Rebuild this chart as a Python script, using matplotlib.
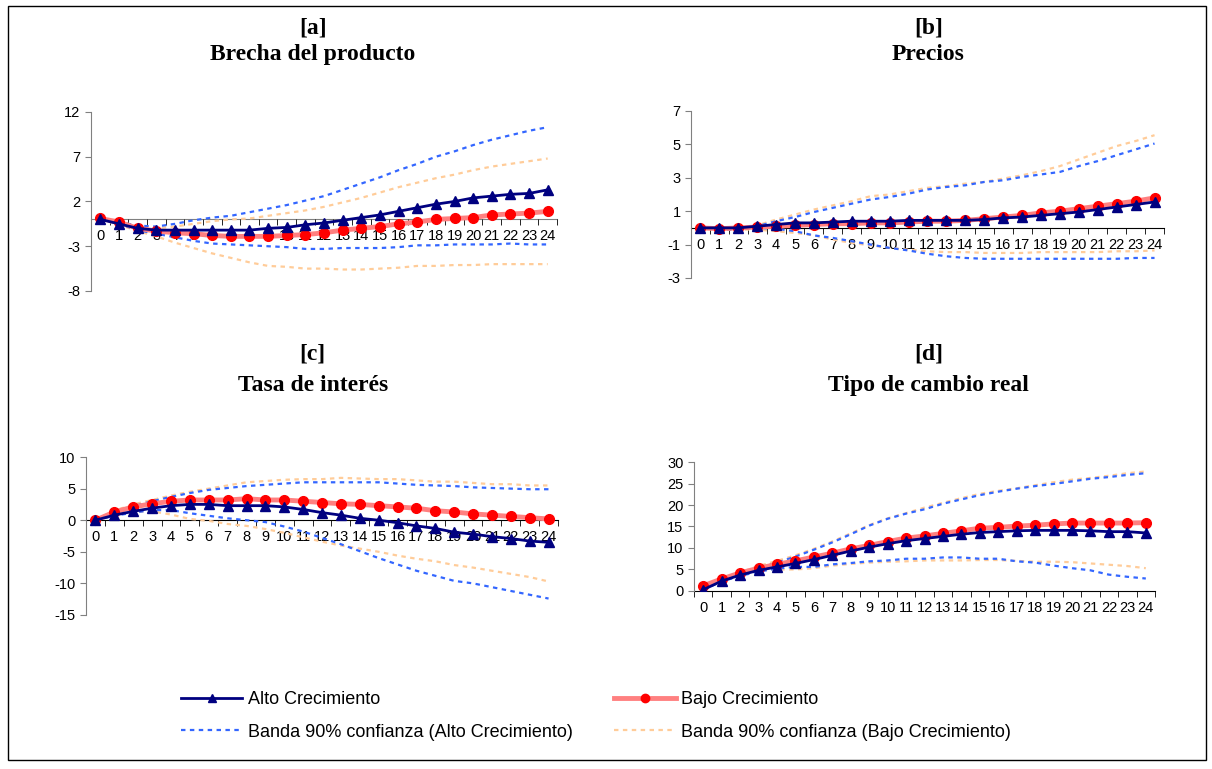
import numpy as np
import matplotlib.pyplot as plt
from matplotlib.patches import Rectangle
from matplotlib.lines import Line2D

plt.rcParams['font.family'] = ['Liberation Sans', 'DejaVu Sans']
plt.rcParams['axes.unicode_minus'] = False

periodos = list(range(25))

# [a] Brecha del producto
a_alto = [0, -0.5, -1.0, -1.2, -1.2, -1.2, -1.2, -1.2, -1.2, -1.0, -0.9, -0.6, -0.4, -0.1,
          0.2, 0.5, 0.9, 1.3, 1.7, 2.0, 2.4, 2.6, 2.8, 2.9, 3.3]
a_bajo = [0.1, -0.3, -1.0, -1.3, -1.5, -1.6, -1.8, -1.9, -1.9, -1.9, -1.8, -1.7, -1.5, -1.2,
          -1.0, -0.8, -0.5, -0.3, 0.0, 0.1, 0.2, 0.5, 0.6, 0.7, 0.9]
a_alto_sup = [0, -0.3, -0.7, -0.8, -0.5, -0.1, 0.2, 0.4, 0.8, 1.2, 1.6, 2.1, 2.6, 3.3,
              4.0, 4.7, 5.5, 6.2, 7.0, 7.6, 8.3, 8.9, 9.4, 9.9, 10.3]
a_alto_inf = [0, -0.5, -1.2, -1.6, -2.0, -2.4, -2.7, -2.8, -2.9, -3.0, -3.1, -3.3, -3.3, -3.2,
              -3.2, -3.2, -3.1, -2.9, -2.9, -2.8, -2.8, -2.8, -2.7, -2.8, -2.8]
a_bajo_sup = [0, -0.3, -0.8, -1.0, -0.8, -0.5, -0.2, 0.0, 0.1, 0.4, 0.7, 1.0, 1.4, 1.9,
              2.4, 3.0, 3.6, 4.1, 4.6, 5.0, 5.5, 5.9, 6.2, 6.5, 6.8]
a_bajo_inf = [0, -0.6, -1.3, -1.9, -2.6, -3.2, -3.8, -4.3, -4.8, -5.2, -5.3, -5.5, -5.5, -5.6,
              -5.6, -5.5, -5.4, -5.2, -5.2, -5.1, -5.1, -5.0, -5.0, -5.0, -5.0]

# [b] Precios
b_alto = [0, 0, 0, 0.1, 0.2, 0.3, 0.3, 0.35, 0.4, 0.4, 0.4, 0.45, 0.45, 0.45, 0.45, 0.5,
          0.6, 0.65, 0.75, 0.85, 0.95, 1.1, 1.25, 1.4, 1.55]
b_bajo = [0, -0.05, 0, 0.05, 0.1, 0.15, 0.2, 0.25, 0.25, 0.3, 0.3, 0.35, 0.4, 0.4, 0.45,
          0.55, 0.65, 0.75, 0.9, 1.0, 1.15, 1.3, 1.45, 1.6, 1.8]
b_alto_sup = [0, 0, 0, 0.1, 0.4, 0.65, 0.95, 1.2, 1.45, 1.7, 1.85, 2.05, 2.3, 2.45, 2.55,
              2.75, 2.85, 3.05, 3.2, 3.35, 3.7, 4.0, 4.35, 4.7, 5.05]
b_alto_inf = [0, -0.1, -0.1, 0, -0.05, -0.2, -0.45, -0.6, -0.8, -1.0, -1.2, -1.35, -1.55,
              -1.7, -1.8, -1.85, -1.85, -1.85, -1.85, -1.85, -1.85, -1.85, -1.85, -1.8, -1.8]
b_bajo_sup = [0, 0, 0, 0.15, 0.5, 0.8, 1.1, 1.35, 1.6, 1.9, 2.0, 2.2, 2.4, 2.5, 2.65, 2.75,
              2.95, 3.15, 3.4, 3.7, 4.1, 4.5, 4.9, 5.2, 5.55]
b_bajo_inf = [0, -0.1, -0.1, -0.1, -0.2, -0.3, -0.45, -0.7, -0.9, -1.05, -1.2, -1.3, -1.4,
              -1.45, -1.45, -1.5, -1.5, -1.5, -1.45, -1.45, -1.45, -1.45, -1.4, -1.4, -1.35]

# [c] Tasa de interes
c_alto = [0, 0.8, 1.4, 1.9, 2.3, 2.5, 2.5, 2.3, 2.3, 2.3, 2.1, 1.7, 1.2, 0.8, 0.3, 0,
          -0.4, -0.9, -1.3, -1.9, -2.2, -2.6, -2.9, -3.3, -3.5]
c_bajo = [0, 1.3, 2.1, 2.6, 3.0, 3.2, 3.2, 3.2, 3.4, 3.2, 3.2, 3.0, 2.8, 2.6, 2.5, 2.3,
          2.1, 1.9, 1.5, 1.3, 1.0, 0.8, 0.6, 0.4, 0.2]
c_alto_sup = [0, 1.2, 2.2, 3.0, 3.7, 4.3, 4.8, 5.1, 5.4, 5.6, 5.8, 6.0, 6.0, 6.0, 6.0, 6.0,
              5.8, 5.6, 5.5, 5.4, 5.2, 5.1, 5.0, 4.9, 4.9]
c_alto_inf = [0, 0.7, 1.2, 1.6, 1.6, 1.1, 0.7, 0.3, 0, -0.3, -1.0, -1.8, -2.8, -3.8, -4.9,
              -6.0, -7.0, -8.0, -8.8, -9.6, -10.0, -10.6, -11.2, -11.8, -12.4]
c_bajo_sup = [0, 1.5, 2.5, 3.2, 3.9, 4.5, 5.0, 5.5, 6.0, 6.2, 6.4, 6.5, 6.5, 6.7, 6.6, 6.5,
              6.5, 6.3, 6.1, 6.1, 5.9, 5.7, 5.7, 5.5, 5.5]
c_bajo_inf = [0, 0.9, 1.3, 1.4, 0.9, 0.2, -0.1, -0.6, -0.9, -1.4, -2.0, -2.7, -3.4, -4.0,
              -4.5, -5.0, -5.6, -6.1, -6.5, -7.1, -7.5, -8.0, -8.5, -9.0, -9.7]

# [d] Tipo de cambio real
d_alto = [0.3, 2.3, 3.7, 4.8, 5.6, 6.4, 7.3, 8.3, 9.3, 10.2, 11.0, 11.7, 12.2, 12.7, 13.2,
          13.6, 13.8, 14.0, 14.1, 14.1, 14.1, 14.0, 13.8, 13.8, 13.5]
d_bajo = [1.2, 2.8, 4.2, 5.3, 6.2, 7.0, 7.9, 8.8, 9.8, 10.6, 11.5, 12.3, 12.8, 13.4, 14.0,
          14.6, 14.8, 15.1, 15.3, 15.6, 15.8, 15.8, 15.8, 15.8, 15.9]
d_alto_sup = [0.5, 2.5, 4.0, 5.4, 6.6, 8.0, 9.6, 11.3, 13.2, 15.2, 16.8, 18.0, 19.0, 20.3,
              21.3, 22.3, 23.1, 23.8, 24.4, 24.9, 25.5, 26.1, 26.5, 27.0, 27.4]
d_alto_inf = [0.3, 2.2, 3.5, 4.5, 5.2, 5.6, 5.6, 6.2, 6.5, 6.9, 7.1, 7.5, 7.5, 7.8, 7.8,
              7.5, 7.5, 6.9, 6.6, 5.9, 5.3, 4.8, 3.8, 3.3, 2.9]
d_bajo_sup = [1.0, 2.9, 4.3, 5.8, 7.0, 8.3, 9.8, 11.5, 13.4, 15.3, 16.9, 18.1, 19.4, 20.5,
              21.6, 22.6, 23.3, 23.9, 24.6, 25.3, 25.9, 26.3, 26.8, 27.4, 27.8]
d_bajo_inf = [0.8, 2.6, 4.1, 4.9, 5.0, 5.0, 5.3, 5.9, 6.3, 6.6, 6.8, 6.9, 7.1, 7.1, 7.1,
              7.2, 7.2, 7.0, 6.8, 6.8, 6.7, 6.4, 6.1, 5.8, 5.3]

letras = ['[a]', '[b]', '[c]', '[d]']
titulos = ['Brecha del producto', 'Precios', 'Tasa de interés', 'Tipo de cambio real']
yticks = [[-8, -3, 2, 7, 12], [-3, -1, 1, 3, 5, 7], [-15, -10, -5, 0, 5, 10],
          [0, 5, 10, 15, 20, 25, 30]]
etiquetas = ['Alto Crecimiento', 'Bajo Crecimiento',
             'Banda 90% confianza (Alto Crecimiento)', 'Banda 90% confianza (Bajo Crecimiento)']

series = [
    (a_alto, a_bajo, a_alto_sup, a_alto_inf, a_bajo_sup, a_bajo_inf),
    (b_alto, b_bajo, b_alto_sup, b_alto_inf, b_bajo_sup, b_bajo_inf),
    (c_alto, c_bajo, c_alto_sup, c_alto_inf, c_bajo_sup, c_bajo_inf),
    (d_alto, d_bajo, d_alto_sup, d_alto_inf, d_bajo_sup, d_bajo_inf),
]

# axes boxes [left, bottom, width, height] in figure fraction
cajas = [[0.0751, 0.6216, 0.3845, 0.2328],
         [0.5701, 0.6385, 0.3903, 0.2172],
         [0.0710, 0.2003, 0.3894, 0.2054],
         [0.5726, 0.2315, 0.3804, 0.1677]]
centros_titulo = [(0.258, 0.964, 0.929), (0.766, 0.964, 0.929),
                  (0.258, 0.540, 0.499), (0.766, 0.540, 0.499)]

azul = '#000080'
rojo_linea = '#FF8080'
rojo = '#FF0000'
banda_azul = '#3366FF'
banda_naranja = '#FFCC99'
gris = '#808080'
serif = ['Liberation Serif', 'DejaVu Serif']

fig = plt.figure(figsize=(12.12, 7.69), dpi=100)

x = np.array(periodos)
for i, (alto, bajo, asup, ainf, bsup, binf) in enumerate(series):
    ax = fig.add_axes(cajas[i])
    ax.plot(x, bsup, color=banda_naranja, lw=1.6, ls=(0, (2, 2)), zorder=2)
    ax.plot(x, binf, color=banda_naranja, lw=1.6, ls=(0, (2, 2)), zorder=2)
    ax.plot(x, asup, color=banda_azul, lw=1.6, ls=(0, (2, 2)), zorder=2)
    ax.plot(x, ainf, color=banda_azul, lw=1.6, ls=(0, (2, 2)), zorder=2)
    ax.plot(x, bajo, color=rojo_linea, lw=3.5, marker='o', ms=7,
            mfc=rojo, mec=rojo, zorder=3)
    ax.plot(x, alto, color=azul, lw=2, marker='^', ms=7,
            mfc=azul, mec=azul, zorder=4)

    ax.set_xlim(-0.5, 24.5)
    ax.set_ylim(yticks[i][0], yticks[i][-1])
    ax.set_yticks(yticks[i])
    ax.set_xticks(x)
    ax.set_xticklabels([str(p) for p in periodos])
    ax.set_xticks(np.arange(-0.5, 25, 1), minor=True)
    ax.tick_params(axis='x', which='major', length=0, pad=7, labelsize=10.5)
    ax.tick_params(axis='x', which='minor', length=4, direction='out', color='black')
    ax.tick_params(axis='y', length=4, direction='out', color=gris, labelsize=10.5)

    for lado in ['top', 'right']:
        ax.spines[lado].set_visible(False)
    ax.spines['left'].set_color(gris)
    ax.spines['bottom'].set_position(('data', 0))
    ax.spines['bottom'].set_color(gris if i == 0 else 'black')
    ax.spines['bottom'].set_zorder(1)
    ax.patch.set_alpha(0)

    cx, y1, y2 = centros_titulo[i]
    fig.text(cx, y1, letras[i], ha='center', va='center', fontsize=17, fontweight='bold',
             family=serif)
    fig.text(cx, y2, titulos[i], ha='center', va='center', fontsize=17, fontweight='bold',
             family=serif)

# legend
h_alto = Line2D([], [], color=azul, lw=2, marker='^', ms=6, mfc=azul, mec=azul)
h_bajo = Line2D([], [], color=rojo_linea, lw=3.5, marker='o', ms=6, mfc=rojo, mec=rojo)
h_balto = Line2D([], [], color=banda_azul, lw=1.6, ls=(0, (2, 2)))
h_bbajo = Line2D([], [], color=banda_naranja, lw=1.6, ls=(0, (2, 2)))
fig.legend([h_alto, h_balto, h_bajo, h_bbajo],
           [etiquetas[0], etiquetas[2], etiquetas[1], etiquetas[3]],
           ncol=2, loc='center left', bbox_to_anchor=(0.136, 0.069), frameon=False,
           fontsize=13, handlelength=3.4, handletextpad=0.3, columnspacing=2.3,
           labelspacing=0.85)

# border frame
fig.patches.append(Rectangle((8 / 1212, 9 / 769), 1198 / 1212, 754 / 769,
                             transform=fig.transFigure, fill=False, ec='black', lw=1))

fig.savefig('out.png', dpi=100)
